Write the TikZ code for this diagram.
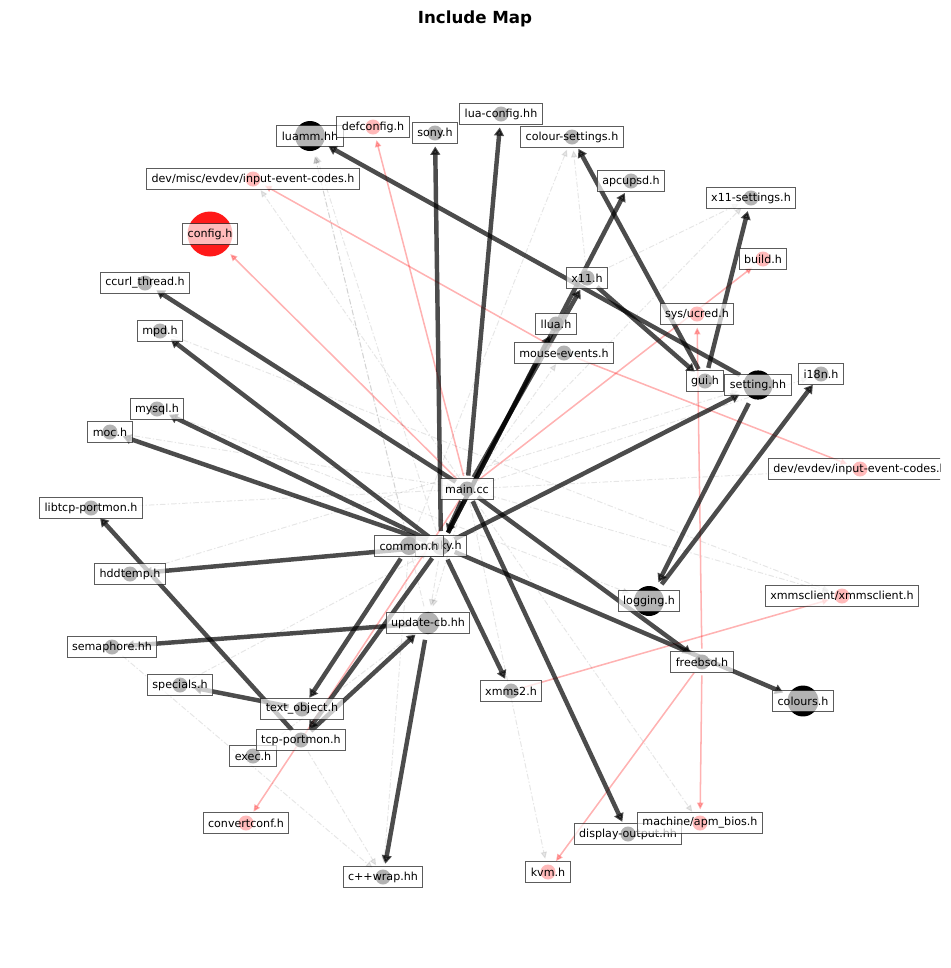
\documentclass[tikz,border=0pt]{standalone}
\usepackage{fontspec}
\setmainfont{DejaVu Sans}
\usetikzlibrary{arrows.meta,backgrounds}

\begin{document}
\begin{tikzpicture}[x=0.72pt,y=-0.72pt,
    nodo/.style={circle,fill=black,inner sep=0pt,outer sep=0pt,minimum size=#1},
    nodo/.default=10.8pt,
    nodor/.style={nodo=#1,fill=red,fill opacity=0.9},
    nodor/.default=10.8pt,
    etic/.style={draw=black!80,draw opacity=0.8,line width=0.7pt,fill=white,fill opacity=0.7,
        text opacity=1,inner xsep=3.6pt,inner ysep=0pt,minimum height=15pt,
        font=\fontsize{8}{9.6}\selectfont},
    forte/.style={line width=3.2pt,draw=black,opacity=0.7,-{Triangle[length=6pt,width=7pt]},
        shorten >=4.3pt,shorten <=4.3pt},
    rosso/.style={line width=1.1pt,draw=red,opacity=0.3,-{Triangle[length=5pt,width=4.5pt]},
        shorten >=4.3pt,shorten <=4.3pt},
    debole/.style={line width=0.7pt,draw=gray,opacity=0.2,
        dash pattern=on 4pt off 1.5pt on 1pt off 1.5pt,-{Triangle[length=5pt,width=4.5pt]},
        shorten >=4.3pt,shorten <=4.3pt}]
    \useasboundingbox (0,0) rectangle (950,968);
    \clip (0,0) rectangle (940,968);
    % titolo
    \node[font=\fontsize{12}{14}\selectfont\bfseries] (titolo) at (475,19) {Include Map};
    % nodi
    \node[nodo] (main) at (467,489) {};
    \node[nodo=13pt] (conky) at (441,546) {};
    \node[nodo=13pt] (common) at (409,546) {};
    \node[nodo=21.6pt] (luamm) at (310,136) {};
    \node[nodor] (defconf) at (373,127) {};
    \node[nodo] (sony) at (435,133) {};
    \node[nodo] (luaconf) at (501,114) {};
    \node[nodo] (colset) at (572,137) {};
    \node[nodor] (misc) at (253,179) {};
    \node[nodo] (apcupsd) at (631,181) {};
    \node[nodo] (x11set) at (751,198) {};
    \node[nodor=32.4pt] (config) at (210,234) {};
    \node[nodor] (build) at (763,259) {};
    \node[nodo] (ccurl) at (145,283) {};
    \node[nodo] (x11) at (587,278) {};
    \node[nodor] (ucred) at (697,314) {};
    \node[nodo] (llua) at (556,324) {};
    \node[nodo] (mpd) at (160,331) {};
    \node[nodo] (mouse) at (564,353) {};
    \node[nodo] (i18n) at (821,374) {};
    \node[nodo] (gui) at (705,381) {};
    \node[nodo=21pt] (setting) at (758,385) {};
    \node[nodo] (mysql) at (157,409) {};
    \node[nodo] (moc) at (110,432) {};
    \node[nodor] (evdev) at (860,469) {};
    \node[nodo] (libtcp) at (91,508) {};
    \node[nodo] (hddtemp) at (130,574) {};
    \node[nodo=16pt] (updcb) at (428,623) {};
    \node[nodo] (sema) at (112,647) {};
    \node[nodo] (specials) at (180,685) {};
    \node[nodo] (textobj) at (302,709) {};
    \node[nodo] (tcpport) at (301,740) {};
    \node[nodo] (exec) at (253,756) {};
    \node[nodor] (convconf) at (246,823) {};
    \node[nodo] (cwrap) at (383,877) {};
    \node[nodo] (xmms2) at (511,691) {};
    \node[nodo=21.6pt] (logging) at (649,601) {};
    \node[nodo] (freebsd) at (702,662) {};
    \node[nodo=22.3pt] (colours) at (803,701) {};
    \node[nodor] (xmmscl) at (842,596) {};
    \node[nodo] (dispout) at (628,834) {};
    \node[nodor] (apm) at (700,823) {};
    \node[nodor] (kvm) at (548,872) {};
    \begin{scope}[on background layer]
        % include deboli (tratteggiati)
        \draw[debole] (main) -- (misc);
        \draw[debole] (main) -- (kvm);
        \draw[debole] (main) -- (apm);
        \draw[debole] (main) -- (x11set);
        \draw[debole] (main) -- (updcb);
        \draw[debole] (main) -- (mouse);
        \draw[debole] (main) -- (i18n);
        \draw[debole] (main) -- (evdev);
        \draw[debole] (main) -- (xmmscl);
        \draw[debole] (conky) -- (luamm);
        \draw[debole] (common) -- (luamm);
        \draw[debole] (common) -- (colset);
        \draw[debole] (x11) -- (colset);
        \draw[debole] (x11) -- (x11set);
        \draw[debole] (conky) -- (updcb);
        \draw[debole] (common) -- (cwrap);
        \draw[debole] (tcpport) -- (cwrap);
        \draw[debole] (sema) -- (cwrap);
        \draw[debole] (libtcp) -- (main);
        \draw[debole] (hddtemp) -- (setting);
        \draw[debole] (moc) -- (main);
        \draw[debole] (mpd) -- (xmmscl);
        \draw[debole] (mysql) -- (logging);
        \draw[debole] (exec) -- (updcb);
        \draw[debole] (specials) -- (conky);
        \draw[debole] (sema) -- (updcb);
        \draw[debole] (updcb) -- (luamm);
        % include mancanti (rossi)
        \draw[rosso] (main) -- (config);
        \draw[rosso] (main) -- (defconf);
        \draw[rosso] (main) -- (build);
        \draw[rosso] (main) -- (convconf);
        \draw[rosso] (mouse) -- (misc);
        \draw[rosso] (mouse) -- (evdev);
        \draw[rosso] (freebsd) -- (ucred);
        \draw[rosso] (freebsd) -- (apm);
        \draw[rosso] (freebsd) -- (kvm);
        \draw[rosso] (xmms2) -- (xmmscl);
        % include diretti
        \draw[forte] (main) -- (conky);
        \draw[forte] (main) -- (luaconf);
        \draw[forte] (main) -- (ccurl);
        \draw[forte] (main) -- (x11);
        \draw[forte] (main) -- (freebsd);
        \draw[forte] (main) -- (dispout);
        \draw[forte] (conky) -- (sony);
        \draw[forte] (conky) -- (mpd);
        \draw[forte] (conky) -- (mysql);
        \draw[forte] (conky) -- (moc);
        \draw[forte] (conky) -- (hddtemp);
        \draw[forte] (conky) -- (xmms2);
        \draw[forte] (conky) -- (colours);
        \draw[forte] (conky) -- (setting);
        \draw[forte] (conky) -- (llua);
        \draw[forte] (conky) -- (apcupsd);
        \draw[forte] (conky) -- (tcpport);
        \draw[forte] (common) -- (textobj);
        \draw[forte] (setting) -- (luamm);
        \draw[forte] (setting) -- (logging);
        \draw[forte] (logging) -- (i18n);
        \draw[forte] (x11) -- (gui);
        \draw[forte] (gui) -- (colset);
        \draw[forte] (gui) -- (x11set);
        \draw[forte] (tcpport) -- (libtcp);
        \draw[forte] (tcpport) -- (updcb);
        \draw[forte] (updcb) -- (sema);
        \draw[forte] (updcb) -- (cwrap);
        \draw[forte] (textobj) -- (specials);
    \end{scope}
    % etichette
    \node[etic] (luamm-t) at (luamm) {luamm.hh};
    \node[etic] (defconf-t) at (defconf) {defconfig.h};
    \node[etic] (sony-t) at (sony) {sony.h};
    \node[etic] (luaconf-t) at (luaconf) {lua-config.hh};
    \node[etic] (colset-t) at (colset) {colour-settings.h};
    \node[etic] (misc-t) at (misc) {dev/misc/evdev/input-event-codes.h};
    \node[etic] (apcupsd-t) at (apcupsd) {apcupsd.h};
    \node[etic] (x11set-t) at (x11set) {x11-settings.h};
    \node[etic] (config-t) at (config) {config.h};
    \node[etic] (build-t) at (build) {build.h};
    \node[etic] (ccurl-t) at (ccurl) {ccurl\_thread.h};
    \node[etic] (x11-t) at (x11) {x11.h};
    \node[etic] (ucred-t) at (ucred) {sys/ucred.h};
    \node[etic] (llua-t) at (llua) {llua.h};
    \node[etic] (mpd-t) at (mpd) {mpd.h};
    \node[etic] (mouse-t) at (mouse) {mouse-events.h};
    \node[etic] (i18n-t) at (i18n) {i18n.h};
    \node[etic] (gui-t) at (gui) {gui.h};
    \node[etic] (setting-t) at (setting) {setting.hh};
    \node[etic] (mysql-t) at (mysql) {mysql.h};
    \node[etic] (moc-t) at (moc) {moc.h};
    \node[etic] (evdev-t) at (evdev) {dev/evdev/input-event-codes.h};
    \node[etic] (main-t) at (main) {main.cc};
    \node[etic] (libtcp-t) at (libtcp) {libtcp-portmon.h};
    \node[etic] (conky-t) at (conky) {conky.h};
    \node[etic] (common-t) at (common) {common.h};
    \node[etic] (hddtemp-t) at (hddtemp) {hddtemp.h};
    \node[etic] (updcb-t) at (updcb) {update-cb.hh};
    \node[etic] (sema-t) at (sema) {semaphore.hh};
    \node[etic] (specials-t) at (specials) {specials.h};
    \node[etic] (textobj-t) at (textobj) {text\_object.h};
    \node[etic] (exec-t) at (exec) {exec.h};
    \node[etic] (tcpport-t) at (tcpport) {tcp-portmon.h};
    \node[etic] (convconf-t) at (convconf) {convertconf.h};
    \node[etic] (cwrap-t) at (cwrap) {c++wrap.hh};
    \node[etic] (xmms2-t) at (xmms2) {xmms2.h};
    \node[etic] (logging-t) at (logging) {logging.h};
    \node[etic] (freebsd-t) at (freebsd) {freebsd.h};
    \node[etic] (colours-t) at (colours) {colours.h};
    \node[etic] (xmmscl-t) at (xmmscl) {xmmsclient/xmmsclient.h};
    \node[etic] (dispout-t) at (dispout) {display-output.hh};
    \node[etic] (apm-t) at (apm) {machine/apm\_bios.h};
    \node[etic] (kvm-t) at (kvm) {kvm.h};
\end{tikzpicture}
\end{document}
